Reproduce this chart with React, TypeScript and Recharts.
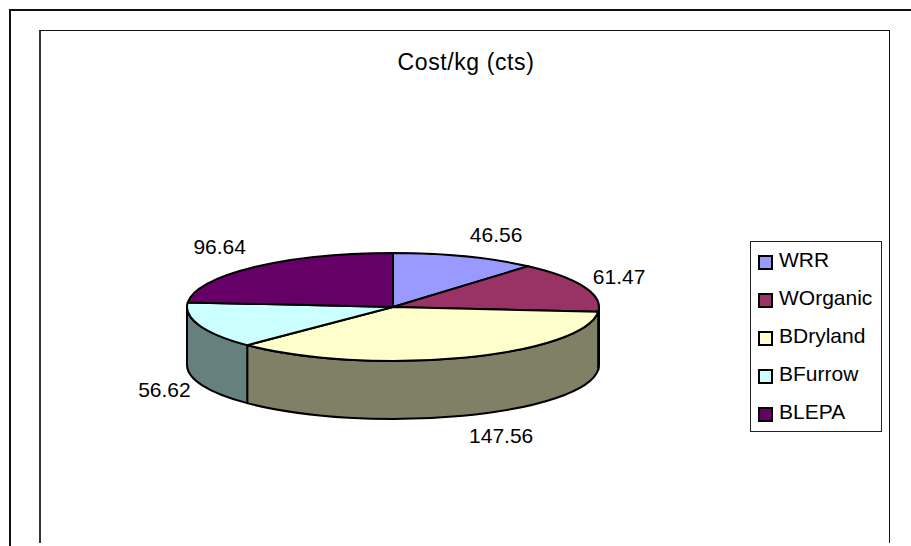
import { PieChart, Pie, Legend } from 'recharts'

const names = ['WRR', 'WOrganic', 'BDryland', 'BFurrow', 'BLEPA']
const costs = [46.56, 61.47, 147.56, 56.62, 96.64]
const topColors = ['#9999FF', '#993366', '#FFFFCC', '#CCFFFF', '#660066']
const wallColors = ['#4D4D80', '#4D1A33', '#808066', '#668080', '#330033']

const WIDTH = 911
const HEIGHT = 546
const FONT = "'Liberation Sans', Arial, sans-serif"

// tilted disc: the pie radius is squashed on y and extruded downward
const CX = 393
const CY = 307
const RX = 206
const RY = 54
const DEPTH = 58

// value labels sit away from the rim, nudged from each slice's mid angle
const labelNudge = [
  [31, -22],
  [35, -10],
  [38, 78],
  [-35, 64],
  [-34, -21],
]

const rows = names.map((name, i) => ({ name, value: costs[i], fill: topColors[i] }))

function rim(angle: number, drop = 0) {
  const rad = (angle * Math.PI) / 180
  return { x: CX + RX * Math.cos(rad), y: CY - RY * Math.sin(rad) + drop }
}

function DiscSlice(props: any) {
  const { startAngle, endAngle, index, fill } = props
  const a = rim(startAngle)
  const b = rim(endAngle)
  const large = startAngle - endAngle > 180 ? 1 : 0
  const top = `M ${CX} ${CY} L ${a.x} ${a.y} A ${RX} ${RY} 0 ${large} 1 ${b.x} ${b.y} Z`

  // only the front half of the rim (-180..0 degrees) shows a wall
  const hi = Math.min(startAngle, 0)
  const lo = Math.max(endAngle, -180)
  let wall = null
  if (hi > lo) {
    const p = rim(hi)
    const q = rim(lo)
    const q2 = rim(lo, DEPTH)
    const p2 = rim(hi, DEPTH)
    const d = `M ${p.x} ${p.y} A ${RX} ${RY} 0 0 1 ${q.x} ${q.y} L ${q2.x} ${q2.y} A ${RX} ${RY} 0 0 0 ${p2.x} ${p2.y} Z`
    wall = <path d={d} fill={wallColors[index]} stroke="#000" strokeWidth={2} strokeLinejoin="round" />
  }

  return (
    <g>
      {wall}
      <path d={top} fill={fill} stroke="#000" strokeWidth={2} strokeLinejoin="round" />
    </g>
  )
}

function ValueLabel(props: any) {
  const { midAngle, index, value } = props
  const at = rim(midAngle)
  const [dx, dy] = labelNudge[index]
  return (
    <text
      x={at.x + dx}
      y={at.y + dy}
      textAnchor="middle"
      dominantBaseline="central"
      fontFamily={FONT}
      fontSize={21}
      fill="#000"
    >
      {value.toFixed(2)}
    </text>
  )
}

function KeyBox({ payload }: any) {
  return (
    <div
      style={{
        boxSizing: 'border-box',
        width: 132,
        height: 191,
        border: '1px solid #222',
        background: '#fff',
      }}
    >
      {(payload ?? []).map((item: any) => (
        <div
          key={item.value}
          style={{
            height: 38,
            display: 'flex',
            alignItems: 'center',
            paddingLeft: 7,
            fontFamily: FONT,
            fontSize: 21,
            color: '#000',
            position: 'relative',
            top: -1,
          }}
        >
          <span
            style={{
              boxSizing: 'border-box',
              width: 15,
              height: 15,
              marginTop: 4,
              marginRight: 6,
              border: '2px solid #000',
              background: item.color,
            }}
          />
          {item.value}
        </div>
      ))}
    </div>
  )
}

export default function App() {
  return (
    <div style={{ position: 'absolute', left: 0, top: 0, width: WIDTH, height: HEIGHT, overflow: 'hidden', background: '#fff' }}>
      <div
        style={{
          position: 'absolute',
          left: 9,
          top: 9,
          width: 1000,
          height: 600,
          borderLeft: '2px solid #111',
          borderTop: '2px solid #111',
        }}
      />
      <div
        style={{
          position: 'absolute',
          boxSizing: 'border-box',
          left: 39,
          top: 30,
          width: 851,
          height: 513,
          borderLeft: '2px solid #333',
          borderTop: '1px solid #111',
          borderRight: '1px solid #111',
        }}
      />
      <div style={{ position: 'absolute', left: 0, top: 0 }}>
        <PieChart width={WIDTH} height={HEIGHT} margin={{ top: 0, right: 0, bottom: 0, left: 0 }}>
          <text
            x={466}
            y={62}
            textAnchor="middle"
            dominantBaseline="central"
            fontFamily={FONT}
            fontSize={23}
            letterSpacing={0.6}
            fill="#000"
          >
            Cost/kg (cts)
          </text>
          <Pie
            data={rows}
            dataKey="value"
            nameKey="name"
            cx={CX}
            cy={CY}
            innerRadius={0}
            outerRadius={RX}
            startAngle={90}
            endAngle={-270}
            paddingAngle={0}
            shape={DiscSlice}
            label={ValueLabel}
            labelLine={false}
            isAnimationActive={false}
          />
          <Legend
            content={KeyBox}
            itemSorter={null}
            layout="vertical"
            wrapperStyle={{ position: 'absolute', left: 750, top: 241, width: 132, height: 191 }}
          />
        </PieChart>
      </div>
    </div>
  )
}
